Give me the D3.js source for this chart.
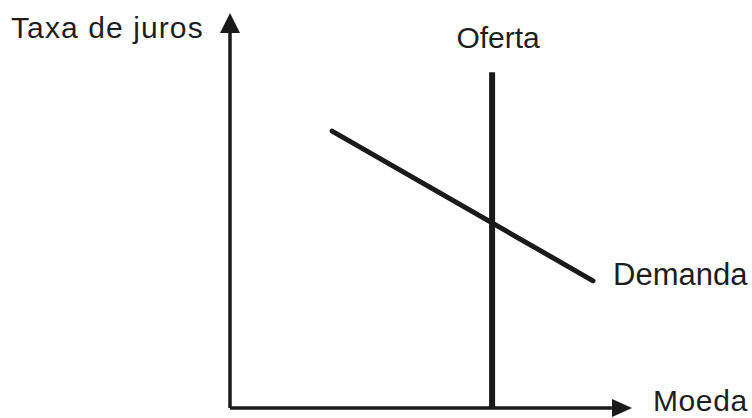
<!DOCTYPE html>
<html>
<head>
<meta charset="utf-8">
<script src="https://cdn.jsdelivr.net/npm/d3@7"></script>
<style>
  html, body { margin: 0; padding: 0; background: #fff; }
  svg { display: block; }
  text { font-family: Arial, "Liberation Sans", sans-serif; font-size: 30px; fill: #1e1e1e; }
</style>
</head>
<body>
<svg id="chart"></svg>
<script>
'use strict'

// values on a 0..100 scale for both axes
const axisDomain = [0, 100];
const demandX = [25.4, 90.3];
const demandY = [70.1, 32.2];
const supplyX = [65.2, 65.2];
const supplyY = [0, 85];
const labels = { y: 'Taxa de juros', x: 'Moeda', supply: 'Oferta', demand: 'Demanda' };

var width = 752, height = 418;
var ink = '#1a1a1a';

var svg = d3.select('#chart')
	.attr('width', width)
	.attr('height', height);

var x = d3.scaleLinear()
	.domain(axisDomain)
	.range([230, 632]);

var y = d3.scaleLinear()
	.domain(axisDomain)
	.range([408, 13]);

var line = d3.line()
	.x(function(d) { return x(d[0]); })
	.y(function(d) { return y(d[1]); });

// axes (no ticks, just lines with arrow heads)
svg.append('path')
	.attr('d', line([[0, 0], [0, 95]]))
	.attr('stroke', ink)
	.attr('stroke-width', 3.5)
	.attr('fill', 'none');

svg.append('path')
	.attr('d', line([[0, 0], [95, 0]]))
	.attr('stroke', ink)
	.attr('stroke-width', 3.5)
	.attr('fill', 'none');

// y arrow head
svg.append('path')
	.attr('d', 'M' + x(0) + ',' + y(100) + 'L' + (x(0) - 10) + ',' + (y(100) + 20) + 'L' + (x(0) + 10) + ',' + (y(100) + 20) + 'Z')
	.attr('fill', ink);

// x arrow head
svg.append('path')
	.attr('d', 'M' + x(100) + ',' + y(0) + 'L' + (x(100) - 20) + ',' + (y(0) - 9) + 'L' + (x(100) - 20) + ',' + (y(0) + 9) + 'Z')
	.attr('fill', ink);

// supply
svg.append('path')
	.attr('d', line(d3.zip(supplyX, supplyY)))
	.attr('stroke', ink)
	.attr('stroke-width', 6)
	.attr('fill', 'none');

// demand
svg.append('path')
	.attr('d', line(d3.zip(demandX, demandY)))
	.attr('stroke', ink)
	.attr('stroke-width', 5)
	.attr('stroke-linecap', 'round')
	.attr('fill', 'none');

// labels
svg.append('text')
	.attr('x', 11)
	.attr('y', 38)
	.style('letter-spacing', '1.1px')
	.text(labels.y);

svg.append('text')
	.attr('x', 653)
	.attr('y', 411)
	.style('letter-spacing', '0.6px')
	.text(labels.x);

svg.append('text')
	.attr('x', x(supplyX[0]) + 6)
	.attr('y', 48)
	.attr('text-anchor', 'middle')
	.text(labels.supply);

svg.append('text')
	.attr('x', 613)
	.attr('y', 285)
	.style('font-size', '31px')
	.text(labels.demand);
</script>
</body>
</html>
